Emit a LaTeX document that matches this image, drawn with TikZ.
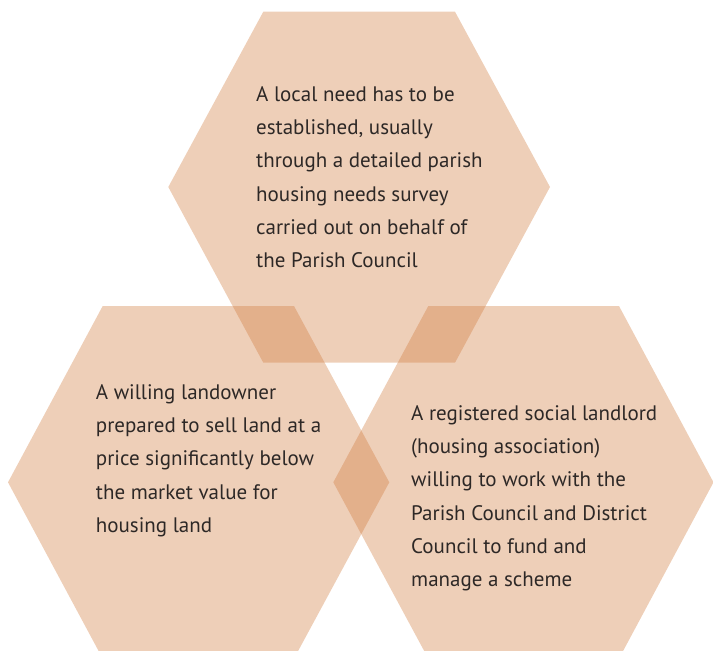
\documentclass[tikz,border=0pt]{standalone}
\usepackage{fontspec}
\setmainfont{PT Sans}
\definecolor{hexfill}{RGB}{207,119,55}
\definecolor{txt}{RGB}{45,40,38}
\begin{document}
\begin{tikzpicture}[x=1pt,y=-1pt,
  hexbox/.style={fill=hexfill, fill opacity=0.354, draw=none},
  hextext/.style={anchor=north west, inner sep=0pt, align=left, text=txt,
    font=\fontsize{21}{33.3}\selectfont}]
\useasboundingbox (0,0) rectangle (713,651);
\begin{scope}
\clip (0,0) rectangle (713,651);
% top hexagon
\fill[hexbox] (168.3,187) -- (263.3,11.7) -- (455,11.7) -- (550,187) -- (455,362.7) -- (263.3,362.7) -- cycle;
% bottom-left hexagon
\fill[hexbox] (8,482.3) -- (102.7,306) -- (294,306) -- (389.3,482.3) -- (294,658.6) -- (102.7,658.6) -- cycle;
% bottom-right hexagon
\fill[hexbox] (333.3,482.3) -- (428.3,306) -- (619,306) -- (713.5,482.3) -- (619,658.6) -- (428.3,658.6) -- cycle;
\end{scope}
\node[hextext] (need) at (256,86) {A local need has to be\\established, usually\\through a detailed parish\\housing needs survey\\carried out on behalf of\\the Parish Council};
\node[hextext] (land) at (95.7,384) {A willing landowner\\prepared to sell land at a\\price significantly below\\the market value for\\housing land};
\node[hextext] (rsl) at (411,405) {A registered social landlord\\(housing association)\\willing to work with the\\Parish Council and District\\Council to fund and\\manage a scheme};
\end{tikzpicture}
\end{document}
